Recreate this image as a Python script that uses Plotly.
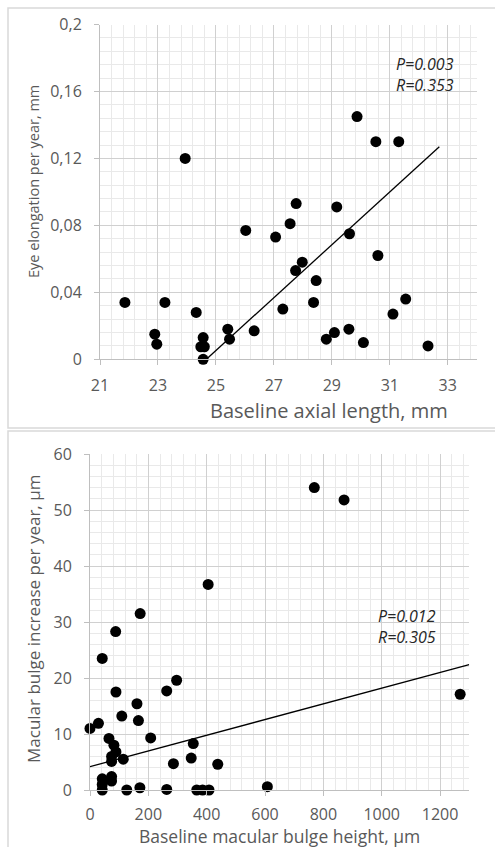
import plotly.graph_objects as go

# ---- Top panel data: baseline axial length (mm) vs eye elongation per year (mm)
axial_length = [21.86, 22.89, 22.96, 23.24, 24.32, 24.56, 24.48, 24.60, 24.56, 25.41,
                25.47, 26.32, 26.03, 27.06, 27.31, 27.56, 27.77, 27.75, 27.98, 28.46,
                28.37, 28.81, 29.09, 29.17, 29.61, 29.59, 30.09, 30.59, 31.11, 31.55,
                32.32, 23.94, 29.87, 30.52, 31.31]
elongation = [0.034, 0.015, 0.009, 0.034, 0.028, 0.013, 0.0075, 0.0075, 0.0, 0.018,
              0.012, 0.017, 0.077, 0.073, 0.030, 0.081, 0.093, 0.053, 0.058, 0.047,
              0.034, 0.012, 0.016, 0.091, 0.075, 0.018, 0.010, 0.062, 0.027, 0.036,
              0.008, 0.120, 0.145, 0.130, 0.130]
trend_top_x = [24.67, 32.71]
trend_top_y = [0.0, 0.127]
top_y_ticks = [0, 0.04, 0.08, 0.12, 0.16, 0.2]
top_y_labels = ["0", "0,04", "0,08", "0,12", "0,16", "0,2"]
top_x_ticks = [21, 23, 25, 27, 29, 31, 33]

# ---- Bottom panel data: baseline macular bulge height (µm) vs increase per year (µm)
bulge_height = [769, 871, 405, 172, 88, 42, 297, 89, 263, 1269, 161, 109, 166, 29, 0,
                208, 65, 82, 89, 74, 74, 114, 354, 347, 286, 438, 42, 74, 74, 42, 42,
                126, 171, 263, 366, 386, 408, 608]
bulge_increase = [54.0, 51.8, 36.7, 31.5, 28.3, 23.5, 19.6, 17.5, 17.7, 17.1, 15.4, 13.2,
                  12.4, 11.9, 11.0, 9.3, 9.2, 8.0, 6.8, 6.0, 5.1, 5.5, 8.3, 5.7, 4.7, 4.6,
                  2.0, 2.4, 1.6, 1.0, 0.0, 0.0, 0.4, 0.1, 0.0, 0.0, 0.0, 0.6]
trend_bot_x = [0, 1300]
trend_bot_y = [4.17, 22.4]
bot_y_ticks = [0, 10, 20, 30, 40, 50, 60]
bot_x_ticks = [0, 200, 400, 600, 800, 1000, 1200]

W, H = 495, 847
FONT = "Open Sans"
GREY = "#595959"
MAJOR = "#d0d0d0"
MINOR = "#e9e9e9"
AXLINE = "#bfbfbf"

def px_x(p):
    return p / W

def px_y(p):
    return (H - p) / H

fig = go.Figure()

fig.add_trace(go.Scatter(x=axial_length, y=elongation, mode="markers",
                         marker=dict(color="black", size=11), xaxis="x", yaxis="y",
                         showlegend=False, cliponaxis=False))
fig.add_trace(go.Scatter(x=trend_top_x, y=trend_top_y, mode="lines",
                         line=dict(color="black", width=1.3), xaxis="x", yaxis="y",
                         showlegend=False))
fig.add_trace(go.Scatter(x=bulge_height, y=bulge_increase, mode="markers",
                         marker=dict(color="black", size=11), xaxis="x2", yaxis="y2",
                         showlegend=False, cliponaxis=False))
fig.add_trace(go.Scatter(x=trend_bot_x, y=trend_bot_y, mode="lines",
                         line=dict(color="black", width=1.3), xaxis="x2", yaxis="y2",
                         showlegend=False))

tickfont = dict(family=FONT, size=16, color=GREY)
common = dict(showgrid=True, gridcolor=MAJOR, gridwidth=1, zeroline=False,
              showline=True, linecolor=AXLINE, linewidth=1, ticks="outside",
              ticklen=5, tickcolor=AXLINE, tickfont=tickfont, automargin=False)

fig.update_layout(
    width=W, height=H,
    margin=dict(l=0, r=0, t=0, b=0, pad=0, autoexpand=False),
    paper_bgcolor="white", plot_bgcolor="white",
    xaxis=dict(domain=[px_x(100), px_x(476.7)], range=[21, 34], anchor="y",
               tickvals=top_x_ticks, ticktext=[str(v) for v in top_x_ticks],
               ticklabelstandoff=6,
               minor=dict(dtick=0.4, tick0=21, showgrid=True, gridcolor=MINOR), **common),
    yaxis=dict(domain=[px_y(359.3), px_y(24.5)], range=[0, 0.2], anchor="x",
               tickvals=top_y_ticks, ticktext=top_y_labels, ticklabelstandoff=9,
               minor=dict(dtick=0.008, tick0=0, showgrid=True, gridcolor=MINOR), **common),
    xaxis2=dict(domain=[px_x(90), px_x(469.2)], range=[0, 1300], anchor="y2",
                tickvals=bot_x_ticks, ticktext=[str(v) for v in bot_x_ticks],
                ticklabelstandoff=5,
                minor=dict(dtick=40, tick0=0, showgrid=True, gridcolor=MINOR), **common),
    yaxis2=dict(domain=[px_y(790), px_y(454)], range=[0, 60], anchor="x2",
                tickvals=bot_y_ticks, ticktext=[str(v) for v in bot_y_ticks],
                ticklabelstandoff=9,
                minor=dict(dtick=2, tick0=0, showgrid=True, gridcolor=MINOR), **common),
    shapes=[
        dict(type="rect", xref="paper", yref="paper",
             x0=px_x(8), x1=1.1, y0=px_y(428), y1=px_y(8),
             line=dict(color="#d9d9d9", width=1.5), layer="below"),
        dict(type="rect", xref="paper", yref="paper",
             x0=px_x(8), x1=1.1, y0=-0.1, y1=px_y(431),
             line=dict(color="#d9d9d9", width=1.5), layer="below"),
    ],
)

statfont = dict(family=FONT, size=16, color="#262626")
annotations = [
    dict(text="Baseline axial length, mm", x=px_x(329), y=px_y(410), xref="paper",
         yref="paper", showarrow=False, font=dict(family=FONT, size=20, color=GREY),
         xanchor="center", yanchor="middle"),
    dict(text="Eye elongation per year, mm", x=px_x(34), y=px_y(182), xref="paper",
         yref="paper", showarrow=False, font=dict(family=FONT, size=14.5, color=GREY),
         textangle=-90, xanchor="center", yanchor="middle"),
    dict(text="Baseline macular bulge height, µm", x=px_x(279), y=px_y(836), xref="paper",
         yref="paper", showarrow=False, font=dict(family=FONT, size=17.5, color=GREY),
         xanchor="center", yanchor="middle"),
    dict(text="Macular bulge increase per year, µm", x=px_x(33), y=px_y(619), xref="paper",
         yref="paper", showarrow=False, font=dict(family=FONT, size=17, color=GREY),
         textangle=-90, xanchor="center", yanchor="middle"),
    dict(text="<i>P=0.003</i><br><i>R=0.353</i>", x=px_x(394), y=px_y(75), xref="paper",
         yref="paper", showarrow=False, font=statfont, align="left",
         xanchor="left", yanchor="middle"),
    dict(text="<i>P=0.012</i><br><i>R=0.305</i>", x=px_x(376), y=px_y(626), xref="paper",
         yref="paper", showarrow=False, font=statfont, align="left",
         xanchor="left", yanchor="middle"),
]
fig.update_layout(annotations=annotations)

fig.write_html("out.html", config={"displayModeBar": False},
               post_script="document.body.style.margin='0px';"
                           "document.body.style.overflow='hidden';")
